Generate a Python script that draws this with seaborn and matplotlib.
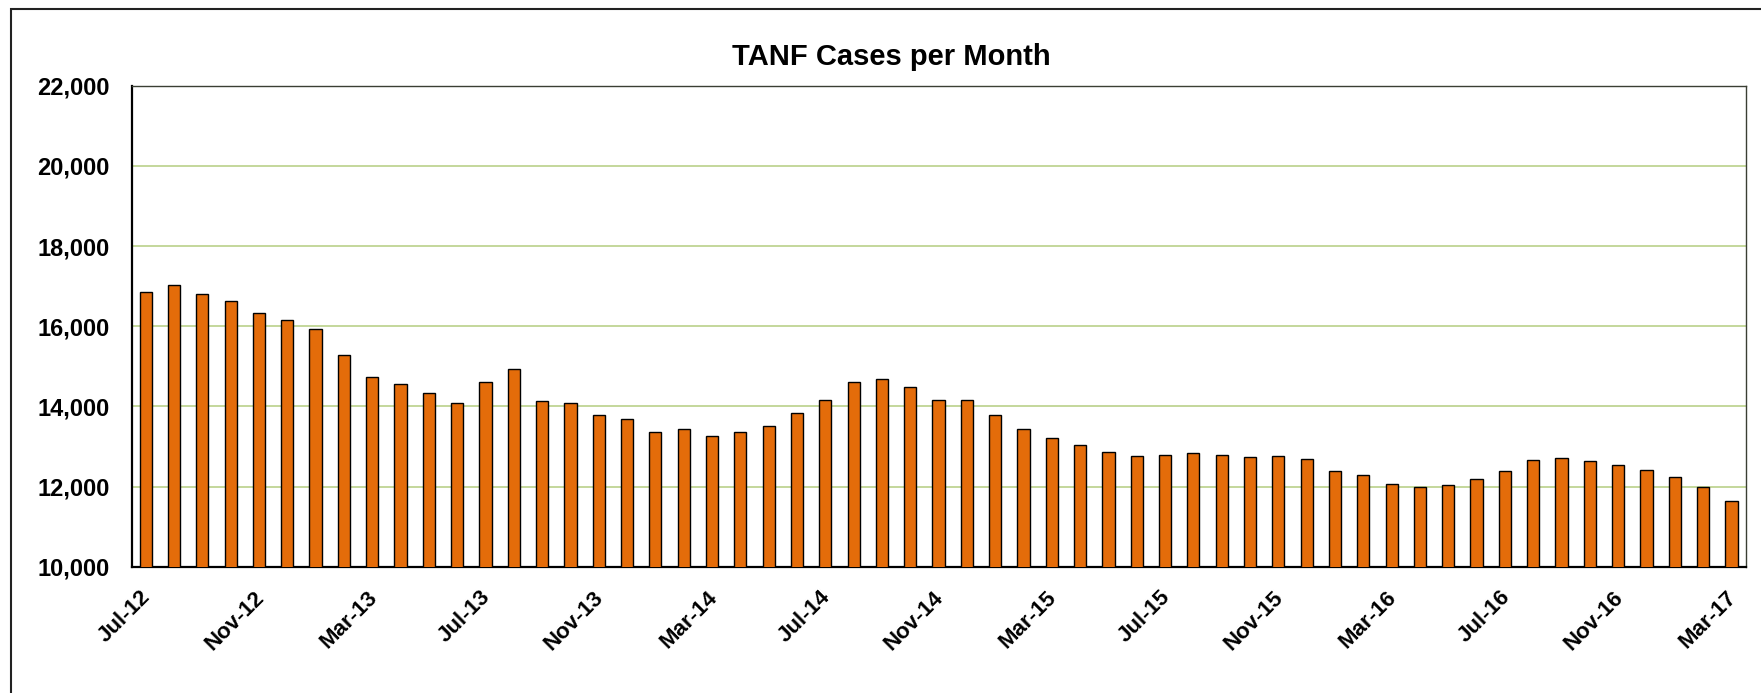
import pandas as pd
import matplotlib.pyplot as plt
import matplotlib.transforms as mtransforms
from matplotlib.patches import Rectangle
from matplotlib.ticker import FuncFormatter
import seaborn as sns

# --- data ---
months = list(pd.date_range("2012-07-01", periods=57, freq="MS").strftime("%b-%y"))
cases = [16860, 17030, 16810, 16640, 16320, 16150, 15920, 15270, 14740, 14560,
         14330, 14080, 14620, 14930, 14130, 14090, 13780, 13680, 13370, 13430,
         13270, 13360, 13500, 13830, 14160, 14600, 14690, 14480, 14170, 14160,
         13790, 13430, 13200, 13030, 12850, 12760, 12780, 12830, 12780, 12730,
         12750, 12680, 12400, 12280, 12060, 11980, 12030, 12180, 12400, 12670,
         12720, 12630, 12530, 12420, 12250, 11980, 11640]
yticks = list(range(10000, 22001, 2000))

df = pd.DataFrame({"month": months, "cases": cases})

sns.set_style("white")
plt.rcParams["font.family"] = ["Liberation Sans", "DejaVu Sans"]
plt.rcParams["font.weight"] = "bold"
plt.rcParams["text.color"] = "black"

W, H = 1761, 693
fig = plt.figure(figsize=(W / 100, H / 100), dpi=100)
ax = fig.add_axes([131.5 / W, 1 - 566.7 / H, (1745.6 - 131.5) / W, (566.7 - 85.7) / H])

sns.barplot(data=df, x="month", y="cases", color="#E46C0A", saturation=1,
            width=0.43, edgecolor="black", linewidth=1.0, ax=ax, zorder=3)

ax.set_ylim(10000, 22000)
ax.set_xlim(-0.5, len(months) - 0.5)
ax.set_yticks(yticks)
ax.yaxis.set_major_formatter(FuncFormatter(lambda v, p: f"{int(v):,}"))
ax.yaxis.grid(True, color="#C4D79B", linewidth=1.4, zorder=0)
ax.set_axisbelow(True)

# category ticks on boundaries, every 4 months
pos = [i - 0.5 for i in range(0, len(months), 4)]
ax.set_xticks(pos)
ax.set_xticklabels([months[i] for i in range(0, len(months), 4)],
                   rotation=45, ha="right", va="center", rotation_mode="anchor")
ax.set_xlabel("")
ax.set_ylabel("")

ax.tick_params(axis="both", direction="inout", length=9.5, width=1.5,
               color="black", labelcolor="black")
ax.tick_params(axis="y", pad=11, labelsize=17)
ax.tick_params(axis="x", pad=15, labelsize=16)
shift = mtransforms.ScaledTranslation(0.16, 0, fig.dpi_scale_trans)
for lbl in ax.get_xticklabels():
    lbl.set_transform(lbl.get_transform() + shift)
    lbl.set_fontweight("bold")
for lbl in ax.get_yticklabels():
    lbl.set_fontweight("bold")

for s in ["left", "bottom"]:
    ax.spines[s].set_color("black")
    ax.spines[s].set_linewidth(1.6)
for s in ["top", "right"]:
    ax.spines[s].set_color("#3A3F33")
    ax.spines[s].set_linewidth(1.0)

fig.text(891.7 / W, 1 - 65 / H, "TANF Cases per Month", ha="center",
         va="baseline", fontsize=21, fontweight="bold", color="black")

# outer chart border (left and top visible)
fig.patches.append(Rectangle((11 / W, -0.1), 1.2, 1.1 - 9 / H, fill=False,
                             edgecolor="#222222", linewidth=1.5,
                             transform=fig.transFigure, figure=fig))

fig.savefig("out.png", dpi=100)
